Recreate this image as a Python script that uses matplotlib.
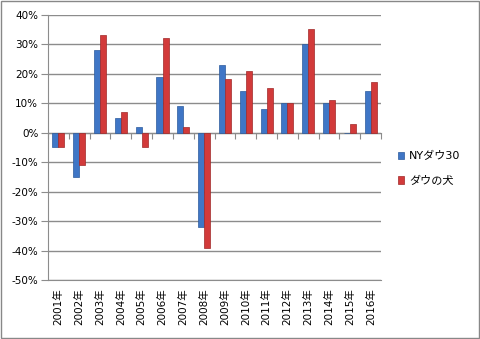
import numpy as np
import matplotlib
matplotlib.use('Agg')
import matplotlib.pyplot as plt
from matplotlib.patches import Rectangle
from matplotlib.ticker import FuncFormatter

plt.rcParams['font.family'] = ['DejaVu Sans', 'Noto Sans CJK JP']

years = ['2001年', '2002年', '2003年', '2004年', '2005年', '2006年', '2007年', '2008年',
         '2009年', '2010年', '2011年', '2012年', '2013年', '2014年', '2015年', '2016年']
ny_dow = [-5, -15, 28, 5, 2, 19, 9, -32, 23, 14, 8, 10, 30, 10, 0, 14]
dogs = [-5, -11, 33, 7, -5, 32, 2, -39, 18, 21, 15, 10, 35, 11, 3, 17]

fig = plt.figure(figsize=(4.8, 3.39), dpi=100)
ax = fig.add_axes([0.1, 0.174, 0.694, 0.783])

x = np.arange(len(years))
w = 0.29
ax.bar(x - w / 2, ny_dow, w, color='#3f76c6', edgecolor='#2c5a9c', linewidth=0.5,
       label='NYダウ30', zorder=3)
ax.bar(x + w / 2, dogs, w, color='#d23a3a', edgecolor='#a02828', linewidth=0.5,
       label='ダウの犬', zorder=3)

ax.set_ylim(-50, 40)
ax.set_xlim(-0.5, len(years) - 0.5)
ax.set_yticks(range(-50, 41, 10))
ax.yaxis.set_major_formatter(FuncFormatter(lambda v, p: '%d%%' % v))
ax.grid(axis='y', color='#8c8c8c', linewidth=1, zorder=0)
ax.tick_params(axis='y', length=5, color='#8c8c8c', labelsize=7.5, pad=2)

for s in ['top', 'right']:
    ax.spines[s].set_visible(False)
ax.spines['left'].set_color('#8c8c8c')
ax.spines['bottom'].set_position(('data', 0))
ax.spines['bottom'].set_color('#8c8c8c')
ax.set_xticks(np.arange(-0.5, len(years), 1))
ax.tick_params(axis='x', length=4, color='#8c8c8c', labelbottom=False)

sec = ax.secondary_xaxis(0.0)
sec.set_xticks(x)
sec.set_xticklabels(years, rotation=90, fontsize=7.5)
sec.tick_params(length=0, pad=6)
sec.spines['bottom'].set_color('#8c8c8c')

ax.legend(loc='center left', bbox_to_anchor=(1.02, 0.42), frameon=False, fontsize=8,
          handlelength=0.6, handleheight=0.6, handletextpad=0.4, labelspacing=1.3)

fig.patches.append(Rectangle((0.002, 0.003), 0.995, 0.994, transform=fig.transFigure,
                             fill=False, edgecolor='#888888', linewidth=1))

fig.savefig('out.png', dpi=100)
